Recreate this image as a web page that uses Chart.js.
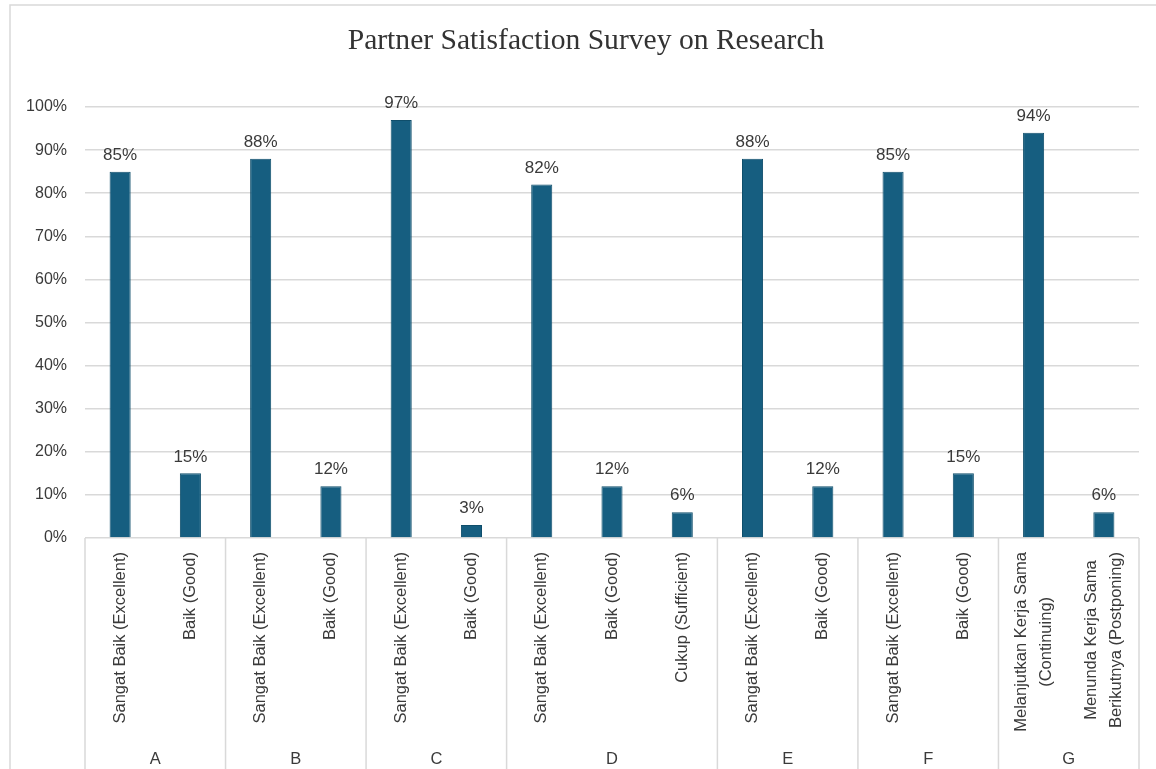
<!DOCTYPE html>
<html>
<head>
<meta charset="utf-8">
<script src="https://cdn.jsdelivr.net/npm/chart.js@4.4.1/dist/chart.umd.min.js"></script>
<style>
	html, body { margin: 0; padding: 0; background: #fff; }
	#wrap { width: 1156px; height: 769px; position: relative; }
</style>
</head>
<body>
<div id="wrap"><canvas id="bar-chart"></canvas></div>
<script>
// categories (bottom tier) and their groups (top tier)
var categories = [
	'Sangat Baik (Excellent)', 'Baik (Good)',
	'Sangat Baik (Excellent)', 'Baik (Good)',
	'Sangat Baik (Excellent)', 'Baik (Good)',
	'Sangat Baik (Excellent)', 'Baik (Good)', 'Cukup (Sufficient)',
	'Sangat Baik (Excellent)', 'Baik (Good)',
	'Sangat Baik (Excellent)', 'Baik (Good)',
	['Melanjutkan Kerja Sama', '(Continuing)'], ['Menunda Kerja Sama', 'Berikutnya (Postponing)']
];
var groupNames = ['A', 'B', 'C', 'D', 'E', 'F', 'G'];
var groupSizes = [2, 2, 2, 3, 2, 2, 2];
var values = [85, 15, 88, 12, 97, 3, 82, 12, 6, 88, 12, 85, 15, 94, 6];
var yTicks = [0, 10, 20, 30, 40, 50, 60, 70, 80, 90, 100];
var chartTitle = 'Partner Satisfaction Survey on Research';

var textColor = '#3a3a3a';
var lineColor = '#d9d9d9';
var labelFont = '16.5px "Liberation Sans", Arial, sans-serif';

// outer frame + title (title centred on the whole picture, not the padded box)
var framePlugin = {
	id: 'frame',
	beforeDraw: function (chart) {
		var ctx = chart.ctx;
		ctx.save();
		ctx.strokeStyle = lineColor;
		ctx.lineWidth = 1.5;
		ctx.beginPath();
		ctx.moveTo(10, chart.height);
		ctx.lineTo(10, 5);
		ctx.lineTo(chart.width, 5);
		ctx.stroke();
		ctx.font = '29.6px "Liberation Serif", "Times New Roman", serif';
		ctx.fillStyle = '#333333';
		ctx.textAlign = 'center';
		ctx.textBaseline = 'middle';
		ctx.fillText(chartTitle, 586, 41);
		ctx.restore();
	}
};

// value labels on top of bars
var valueLabels = {
	id: 'valueLabels',
	afterDatasetsDraw: function (chart) {
		var ctx = chart.ctx;
		var meta = chart.getDatasetMeta(0);
		ctx.save();
		ctx.font = '17px "Liberation Sans", Arial, sans-serif';
		ctx.fillStyle = textColor;
		ctx.textAlign = 'center';
		ctx.textBaseline = 'bottom';
		for (var i = 0; i < meta.data.length; i++) {
			var bar = meta.data[i];
			ctx.fillText(values[i] + '%', bar.x, bar.y - 8);
		}
		ctx.restore();
	}
};

// two-tier category axis: rotated category labels (centred lines), group names, separators
var groupAxis = {
	id: 'groupAxis',
	afterDraw: function (chart) {
		var x = chart.scales.x;
		var ctx = chart.ctx;
		var top = x.top;
		var bottom = chart.height;
		var bounds = [x.left];
		var idx = 0;
		for (var g = 0; g < groupSizes.length; g++) {
			idx += groupSizes[g];
			if (idx < categories.length) {
				bounds.push((x.getPixelForValue(idx - 1) + x.getPixelForValue(idx)) / 2);
			} else {
				bounds.push(x.right);
			}
		}
		ctx.save();
		ctx.strokeStyle = lineColor;
		ctx.lineWidth = 1.5;
		ctx.beginPath();
		for (var b = 0; b < bounds.length; b++) {
			ctx.moveTo(bounds[b], top);
			ctx.lineTo(bounds[b], bottom);
		}
		ctx.stroke();

		ctx.fillStyle = textColor;
		ctx.font = labelFont;
		ctx.textAlign = 'center';
		ctx.textBaseline = 'middle';
		for (var i = 0; i < categories.length; i++) {
			var lines = Array.isArray(categories[i]) ? categories[i] : [categories[i]];
			var w = 0;
			lines.forEach(function (l) { w = Math.max(w, ctx.measureText(l).width); });
			var cx = x.getPixelForValue(i);
			var cy = top + 14 + w / 2;
			for (var j = 0; j < lines.length; j++) {
				ctx.save();
				ctx.translate(cx + (j - (lines.length - 1) / 2) * 25, cy);
				ctx.rotate(-Math.PI / 2);
				ctx.fillText(lines[j], 0, 0);
				ctx.restore();
			}
		}

		ctx.font = '16.5px "Liberation Sans", Arial, sans-serif';
		for (var g = 0; g < groupNames.length; g++) {
			ctx.fillText(groupNames[g], (bounds[g] + bounds[g + 1]) / 2, 759);
		}
		ctx.restore();
	}
};

var barChart = new Chart(document.getElementById('bar-chart'), {
	type: 'bar',
	data: {
		labels: categories,
		datasets: [
			{
				label: 'Survey',
				data: values,
				backgroundColor: '#165e80',
				borderColor: '#0f4e6b',
				borderWidth: 1,
				categoryPercentage: 1,
				barPercentage: 0.3
			}
		]
	},
	options: {
		responsive: true,
		maintainAspectRatio: false,
		animation: false,
		layout: {
			padding: { left: 10, right: 17, top: 107, bottom: 0 }
		},
		plugins: {
			legend: { display: false },
			tooltip: { enabled: false },
			title: { display: false }
		},
		scales: {
			x: {
				grid: { display: false },
				border: { display: false },
				ticks: { display: false },
				afterFit: function (scale) {
					scale.height = 231;
				}
			},
			y: {
				min: 0,
				max: 100,
				grid: { color: lineColor, lineWidth: 1.5, drawTicks: false },
				border: { display: false },
				afterBuildTicks: function (scale) {
					scale.ticks = yTicks.map(function (v) { return { value: v }; });
				},
				ticks: {
					color: textColor,
					font: { family: '"Liberation Sans", Arial, sans-serif', size: 16 },
					padding: 18,
					callback: function (v) { return v + '%'; }
				},
				afterFit: function (scale) {
					scale.width = 75;
				}
			}
		}
	},
	plugins: [framePlugin, valueLabels, groupAxis]
});
</script>
</body>
</html>
